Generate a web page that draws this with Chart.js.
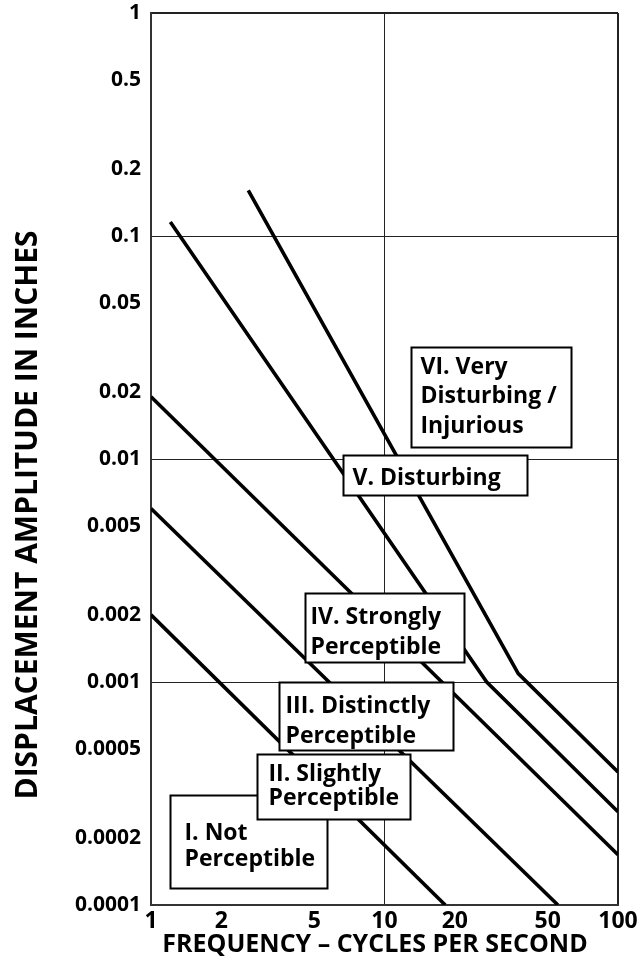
<!DOCTYPE html>
<html>
<head>
<meta charset="utf-8">
<script src="https://cdn.jsdelivr.net/npm/chart.js@4.4.1/dist/chart.umd.min.js"></script>
<style>
  html, body { margin: 0; padding: 0; background: #fff; }
  #wrap { width: 638px; height: 970px; }
</style>
</head>
<body>
<div id="wrap"><canvas id="chart" width="638" height="970"></canvas></div>
<script>
// tick values and labels
const freqTicks = [1, 2, 5, 10, 20, 50, 100];
const freqLabels = ["1", "2", "5", "10", "20", "50", "100"];
const ampTicks = [0.0001, 0.0002, 0.0005, 0.001, 0.002, 0.005, 0.01, 0.02, 0.05, 0.1, 0.2, 0.5, 1];
const ampLabels = ["0.0001", "0.0002", "0.0005", "0.001", "0.002", "0.005", "0.01", "0.02", "0.05", "0.1", "0.2", "0.5", "1"];

// boundary lines between the zones (frequency in Hz, displacement in inches)
const line1Freq = [1, 18.2];
const line1Amp = [0.002, 0.0001];
const line2Freq = [1, 55.3];
const line2Amp = [0.006, 0.0001];
const line3Freq = [1, 100];
const line3Amp = [0.019, 0.000168];
const line4Freq = [1.21, 27.4, 100];
const line4Amp = [0.1155, 0.001, 0.000262];
const line5Freq = [2.61, 37.4, 100];
const line5Amp = [0.16, 0.00109, 0.000395];

// zone labels
const zoneTexts = [
  ["I. Not", "Perceptible"],
  ["II. Slightly", "Perceptible"],
  ["III. Distinctly", "Perceptible"],
  ["IV. Strongly", "Perceptible"],
  ["V. Disturbing"],
  ["VI. Very", "Disturbing /", "Injurious"],
];

// box placement in axis units, text offsets in px
const zoneBoxes = [
  { x1: 1.206, x2: 5.67, y1: 0.000311, y2: 0.000119, padX: 14, baselines: [44, 70] },
  { x1: 2.84, x2: 12.86, y1: 0.000475, y2: 0.000243, padX: 11, baselines: [26, 50] },
  { x1: 3.53, x2: 19.65, y1: 0.001, y2: 0.000496, padX: 6, baselines: [30, 60] },
  { x1: 4.57, x2: 21.9, y1: 0.002507, y2: 0.00123, padX: 5, baselines: [30, 60] },
  { x1: 6.64, x2: 40.8, y1: 0.01042, y2: 0.0069, padX: 9, baselines: [29] },
  { x1: 12.99, x2: 62.9, y1: 0.0318, y2: 0.01132, padX: 9, baselines: [26, 55, 85] },
];

const xTitle = "FREQUENCY – CYCLES PER SECOND";
const yTitle = "DISPLACEMENT AMPLITUDE IN INCHES";

function toPoints(xs, ys) {
  const pts = [];
  for (let i = 0; i < xs.length; i++) {
    pts.push({ x: xs[i], y: ys[i] });
  }
  return pts;
}

function makeLine(xs, ys) {
  return {
    data: toPoints(xs, ys),
    borderColor: "#000",
    borderWidth: 3.6,
    pointRadius: 0,
    tension: 0,
    fill: false,
  };
}

const zonePlugin = {
  id: "zoneLabels",
  afterDatasetsDraw(chart) {
    const ctx = chart.ctx;
    const x = chart.scales.x;
    const y = chart.scales.y;
    ctx.save();
    for (let i = 0; i < zoneBoxes.length; i++) {
      const b = zoneBoxes[i];
      const left = Math.round(x.getPixelForValue(b.x1)) + 0.5;
      const right = Math.round(x.getPixelForValue(b.x2)) + 0.5;
      const top = Math.round(y.getPixelForValue(b.y1)) + 0.5;
      const bottom = Math.round(y.getPixelForValue(b.y2)) + 0.5;
      ctx.fillStyle = "#fff";
      ctx.fillRect(left, top, right - left, bottom - top);
      ctx.strokeStyle = "#000";
      ctx.lineWidth = 2;
      ctx.strokeRect(left, top, right - left, bottom - top);

      ctx.fillStyle = "#000";
      ctx.font = "bold 23px 'Open Sans'";
      ctx.textAlign = "left";
      ctx.textBaseline = "alphabetic";
      const lines = zoneTexts[i];
      for (let j = 0; j < lines.length; j++) {
        ctx.fillText(lines[j], left + b.padX, top + b.baselines[j]);
      }
    }
    ctx.restore();
  },
};

// axis titles (the y title sits lower than the middle of the axis)
const titlePlugin = {
  id: "axisTitles",
  afterDraw(chart) {
    const ctx = chart.ctx;
    ctx.save();
    ctx.fillStyle = "#000";
    ctx.textAlign = "center";
    ctx.textBaseline = "middle";
    ctx.font = "bold 25px 'Open Sans'";
    ctx.fillText(xTitle, 375, 945);

    ctx.translate(28, 515);
    ctx.rotate(-Math.PI / 2);
    ctx.font = "bold 30px 'Open Sans'";
    ctx.fillText(yTitle, 0, 0);
    ctx.restore();
  },
};

new Chart(document.getElementById("chart"), {
  type: "line",
  data: {
    datasets: [
      makeLine(line1Freq, line1Amp),
      makeLine(line2Freq, line2Amp),
      makeLine(line3Freq, line3Amp),
      makeLine(line4Freq, line4Amp),
      makeLine(line5Freq, line5Amp),
    ],
  },
  options: {
    responsive: false,
    animation: false,
    layout: { padding: { top: 13, right: 20, left: 0, bottom: 0 } },
    plugins: {
      legend: { display: false },
      tooltip: { enabled: false },
    },
    scales: {
      x: {
        type: "logarithmic",
        min: 1,
        max: 100,
        afterBuildTicks: (s) => {
          s.ticks = freqTicks.map((v) => ({ value: v }));
        },
        afterFit: (s) => {
          s.height = 65;
          s.paddingLeft = 0;
          s.paddingRight = 0;
        },
        ticks: {
          autoSkip: false,
          maxRotation: 0,
          padding: 3,
          color: "#000",
          font: { family: "'Open Sans'", size: 23, weight: "bold" },
          callback: (v, i) => freqLabels[i],
        },
        grid: {
          drawTicks: false,
          color: (c) => (c.tick && (c.tick.value === 10 || c.tick.value === 100) ? "#222" : "rgba(0,0,0,0)"),
          lineWidth: (c) => (c.tick && c.tick.value === 100 ? 2 : 1),
        },
        border: { display: true, color: "#333", width: 2 },
      },
      y: {
        type: "logarithmic",
        min: 0.0001,
        max: 1,
        afterBuildTicks: (s) => {
          s.ticks = ampTicks.map((v) => ({ value: v }));
        },
        afterFit: (s) => {
          s.width = 151;
          s.paddingTop = 0;
          s.paddingBottom = 0;
        },
        ticks: {
          autoSkip: false,
          padding: 10,
          color: "#000",
          font: { family: "'Open Sans'", size: 21, weight: "bold" },
          callback: (v, i) => ampLabels[i],
        },
        grid: {
          drawTicks: false,
          color: (c) => {
            const v = c.tick ? c.tick.value : 0;
            return v === 0.1 || v === 0.01 || v === 0.001 || v === 1 ? "#222" : "rgba(0,0,0,0)";
          },
          lineWidth: (c) => (c.tick && c.tick.value === 1 ? 2 : 1),
        },
        border: { display: true, color: "#333", width: 2 },
      },
    },
  },
  plugins: [zonePlugin, titlePlugin],
});
</script>
</body>
</html>
